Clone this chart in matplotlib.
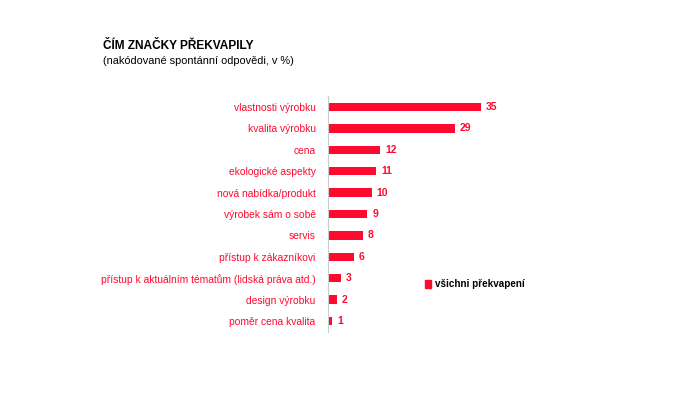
import matplotlib
matplotlib.use("Agg")
from matplotlib import pyplot as plt
from matplotlib.patches import Rectangle

plt.rcParams['font.family'] = ['Liberation Sans', 'DejaVu Sans']

categories = ['vlastnosti výrobku', 'kvalita výrobku', 'cena', 'ekologické aspekty',
              'nová nabídka/produkt', 'výrobek sám o sobě', 'servis',
              'přístup k zákazníkovi', 'přístup k aktuálním tématům (lidská práva atd.)',
              'design výrobku', 'poměr cena kvalita']
values = [35, 29, 12, 11, 10, 9, 8, 6, 3, 2, 1]

red = '#ff0a2f'

fig = plt.figure(figsize=(7, 4.17), dpi=100)
ax = fig.add_axes([0.4686, 0.2046, 0.3, 0.5645])

pos = list(range(len(categories)))
ax.barh(pos, values, height=0.4, color=red)
ax.set_ylim(len(categories) - 0.5, -0.5)
ax.set_xlim(0, 0.3 * 700 / 4.37)

# value labels next to bars
for p, v in zip(pos, values):
    ax.annotate(str(v), (v, p), xytext=(3.5, 0), textcoords='offset points',
                va='center', ha='left', color=red, fontsize=7.5, fontweight='bold')

ax.set_yticks(pos)
ax.set_yticklabels(categories, color=red, fontsize=7.4)
ax.tick_params(axis='y', length=0, pad=9)
ax.set_xticks([])
for s in ['top', 'right', 'bottom']:
    ax.spines[s].set_visible(False)
ax.spines['left'].set_color('#cccccc')
ax.spines['left'].set_linewidth(0.8)

fig.text(103 / 700, 1 - 46 / 417, 'ČÍM ZNAČKY PŘEKVAPILY', fontsize=8.6,
         fontweight='bold', va='center', ha='left', color='black')
fig.text(103 / 700, 1 - 61 / 417, '(nakódované spontánní odpovědi, v %)', fontsize=7.9,
         va='center', ha='left', color='black')

# legend
fig.patches.append(Rectangle((425 / 700, 1 - 288 / 417), 6 / 700, 8 / 417,
                             transform=fig.transFigure, color=red))
fig.text(435 / 700, 1 - 284 / 417, 'všichni překvapení', fontsize=7.1, fontweight='bold',
         va='center', ha='left', color='black')

fig.savefig('out.png', dpi=100)
